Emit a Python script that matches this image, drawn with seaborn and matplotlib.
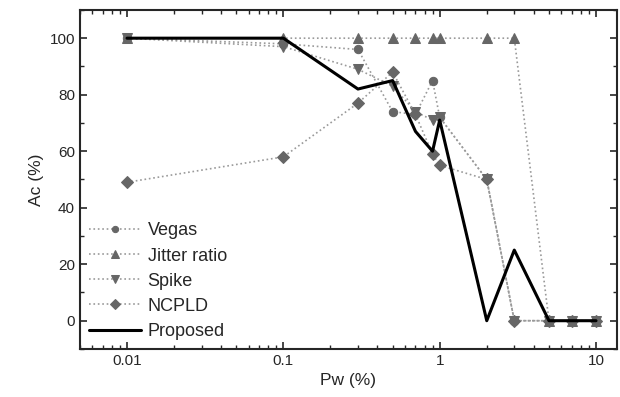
import numpy as np
import pandas as pd
import matplotlib
matplotlib.use('Agg')
import matplotlib.pyplot as plt
import seaborn as sns
from matplotlib.ticker import LogLocator, FixedLocator, NullFormatter, MultipleLocator

# datos
pw = [0.01, 0.1, 0.3, 0.5, 0.7, 0.9, 1, 2, 3, 5, 7, 10]
vegas = [100, 98, 96, 74, 73, 85, 72, 50, 0, 0, 0, 0]
jitter = [100, 100, 100, 100, 100, 100, 100, 100, 100, 0, 0, 0]
spike = [100, 97, 89, 83, 74, 71, 72, 50, 0, 0, 0, 0]
ncpld = [49, 58, 77, 88, 73, 59, 55, 50, 0, 0, 0, 0]
proposed = [100, 100, 82, 85, 67, 60, 71, 0, 25, 0, 0, 0]

sns.set_style('ticks')
plt.rcParams['font.family'] = ['Liberation Sans', 'DejaVu Sans']

fig = plt.figure(figsize=(6.2, 3.97), dpi=100)
ax = fig.add_axes([0.129, 0.121, 0.866, 0.854])

gris_linea = '#9a9a9a'
gris_marca = '#666666'

series = [('Vegas', vegas, 'o', 6),
          ('Jitter ratio', jitter, '^', 7.5),
          ('Spike', spike, 'v', 7.5),
          ('NCPLD', ncpld, 'D', 6.5)]

for nombre, vals, m, ms in series:
    df = pd.DataFrame({'pw': pw, 'ac': vals})
    sns.lineplot(data=df, x='pw', y='ac', ax=ax, color=gris_linea, lw=1.2,
                 linestyle=':', marker=m, markersize=ms, markerfacecolor=gris_marca,
                 markeredgecolor=gris_marca, label=nombre)

df = pd.DataFrame({'pw': pw, 'ac': proposed})
sns.lineplot(data=df, x='pw', y='ac', ax=ax, color='black', lw=2.2, label='Proposed')

ax.set_xscale('log')
ax.set_xlim(0.005, 13.6)
ax.set_ylim(-10, 110)
ax.xaxis.set_major_locator(FixedLocator([0.01, 0.1, 1, 10]))
ax.set_xticklabels(['0.01', '0.1', '1', '10'])
ax.xaxis.set_minor_locator(LogLocator(base=10, subs=np.arange(2, 10)))
ax.xaxis.set_minor_formatter(NullFormatter())
ax.yaxis.set_major_locator(MultipleLocator(20))
ax.yaxis.set_minor_locator(MultipleLocator(10))

ax.tick_params(which='both', direction='in', top=True, right=True, labelsize=11)
ax.tick_params(which='major', length=5, width=1.2)
ax.tick_params(which='minor', length=3, width=1)
for s in ax.spines.values():
    s.set_linewidth(1.5)

ax.set_xlabel('Pw (%)', fontsize=12.5)
ax.set_ylabel('Ac (%)', fontsize=12.5)

leg = ax.legend(loc='lower left', bbox_to_anchor=(0.0, 0.0), frameon=False,
                fontsize=13, handlelength=2.9, labelspacing=0.45, handletextpad=0.35,
                borderaxespad=0.2, borderpad=0.3, markerscale=0.75)

plt.savefig('out.png', dpi=100)
